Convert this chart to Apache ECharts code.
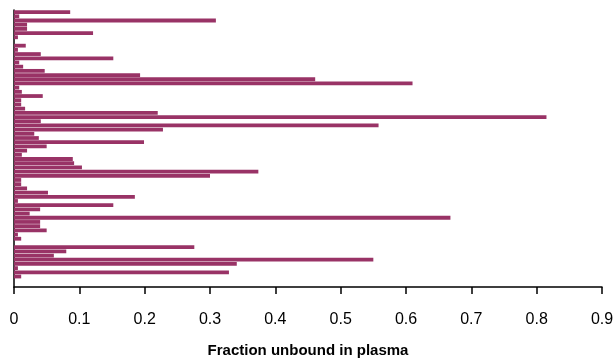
<!DOCTYPE html>
<html>
<head>
<meta charset="utf-8">
<script src="https://cdn.jsdelivr.net/npm/echarts@6/dist/echarts.min.js"></script>
<style>
  html, body { margin: 0; padding: 0; background: #fff; }
  #chart { width: 613px; height: 360px; }
</style>
</head>
<body>
<div id="chart"></div>
<script>
// fraction unbound, one value per compound, top to bottom
const fuValues = [
  0.086, 0.008, 0.309, 0.02, 0.02, 0.121, 0.006, 0,
  0.018, 0.006, 0.041, 0.152, 0.008, 0.014, 0.047, 0.193,
  0.461, 0.61, 0.008, 0.012, 0.044, 0.011, 0.011, 0.017,
  0.22, 0.815, 0.041, 0.558, 0.228, 0.031, 0.038, 0.199,
  0.05, 0.02, 0.012, 0.09, 0.092, 0.104, 0.374, 0.30,
  0.011, 0.011, 0.02, 0.052, 0.185, 0.006, 0.152, 0.04,
  0.024, 0.668, 0.04, 0.04, 0.05, 0.006, 0.011, 0,
  0.276, 0.08, 0.061, 0.55, 0.341, 0.006, 0.329, 0.011,
  0, 0
];
// compounds are not labelled in the figure
const compounds = fuValues.map((v, i) => 'c' + (i + 1));
const xTicks = ['0', '0.1', '0.2', '0.3', '0.4', '0.5', '0.6', '0.7', '0.8', '0.9'];

const chart = echarts.init(document.getElementById('chart'));
chart.setOption({
  animation: false,
  grid: { left: 14, right: 11, top: 10, bottom: 73, containLabel: false, outerBoundsMode: 'none' },
  xAxis: {
    type: 'value',
    min: 0,
    max: 0.9,
    interval: 0.1,
    name: 'Fraction unbound in plasma',
    nameLocation: 'middle',
    nameGap: 56,
    nameTextStyle: {
      fontFamily: '"Liberation Sans", Arial',
      fontWeight: 'bold',
      fontSize: 15,
      color: '#000'
    },
    axisLine: { show: true, lineStyle: { color: '#000', width: 1.5 } },
    axisTick: { show: true, length: 7, lineStyle: { color: '#000', width: 1.5 } },
    axisLabel: {
      margin: 25,
      fontFamily: '"Liberation Sans", Arial',
      fontSize: 16,
      color: '#000',
      formatter: (v) => xTicks[Math.round(v * 10)]
    },
    splitLine: { show: false }
  },
  yAxis: {
    type: 'category',
    inverse: true,
    data: compounds,
    axisLine: { show: true, lineStyle: { color: '#000', width: 1.5 } },
    axisTick: { show: false },
    axisLabel: { show: false }
  },
  series: [{
    type: 'bar',
    data: fuValues,
    barCategoryGap: '10%',
    itemStyle: { color: '#993366' }
  }]
});
</script>
</body>
</html>
